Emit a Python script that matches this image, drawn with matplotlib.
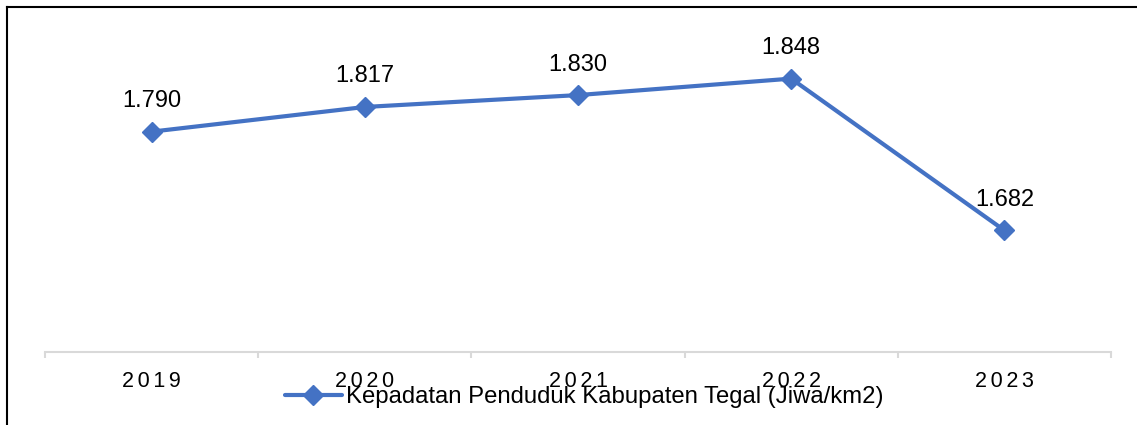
import numpy as np
import matplotlib.pyplot as plt
from matplotlib.lines import Line2D

tahun = ["2019", "2020", "2021", "2022", "2023"]
kepadatan = [1790, 1817, 1830, 1848, 1682]
label_nilai = ["1.790", "1.817", "1.830", "1.848", "1.682"]
nama_seri = "Kepadatan Penduduk Kabupaten Tegal (Jiwa/km2)"

W, H = 1137, 425
BIRU = "#4472C4"
plt.rcParams['font.family'] = ['Liberation Sans', 'DejaVu Sans']

fig = plt.figure(figsize=(W / 100, H / 100), dpi=100)
ax = fig.add_axes([45 / W, (H - 352) / H, (1111 - 45) / W, (352 - 32) / H])

x = np.arange(len(tahun))
ax.plot(x, kepadatan, color=BIRU, lw=3, marker="D", markersize=10,
        label=nama_seri, solid_capstyle="round")

for xi, yi, lab in zip(x, kepadatan, label_nilai):
    ax.annotate(lab, (xi, yi), xytext=(0, 22), textcoords="offset points",
                ha="center", va="center", fontsize=17)

ax.set_xlim(-0.5, len(tahun) - 0.5)
ax.set_ylim(1549, 1899)
ax.set_yticks([])

# spaced-out year labels
ax.set_xticks(x)
ax.set_xticklabels(["\u2006".join(t) for t in tahun], fontsize=15.5)
ax.tick_params(axis="x", which="major", length=0, pad=14)
ax.set_xticks(np.arange(-0.5, len(tahun)), minor=True)
ax.tick_params(axis="x", which="minor", length=4.5, color="#d9d9d9", width=1.5)

for s in ["top", "left", "right"]:
    ax.spines[s].set_visible(False)
ax.spines["bottom"].set_color("#d9d9d9")
ax.spines["bottom"].set_linewidth(1.5)

fig.legend(loc="center", bbox_to_anchor=(584 / W, 1 - 397 / H), frameon=False,
           fontsize=17.2, handlelength=2.4, handletextpad=0.15, borderpad=0)

# border of the original frame (top and left only)
fig.add_artist(Line2D([7 / W, 7 / W], [0, 1 - 7 / H], transform=fig.transFigure,
                      color="black", lw=1.5))
fig.add_artist(Line2D([7 / W, 1], [1 - 7 / H, 1 - 7 / H], transform=fig.transFigure,
                      color="black", lw=1.5))

fig.savefig("out.png", dpi=100)
